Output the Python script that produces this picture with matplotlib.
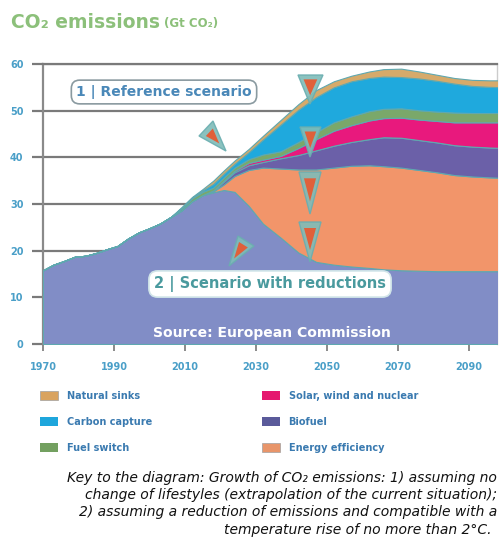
import matplotlib
matplotlib.use("Agg")
import matplotlib.pyplot as plt
from matplotlib.patches import Polygon, Patch

# ---------------- data (Gt CO2) ----------------
years = [1970, 1973, 1976, 1979, 1982, 1985, 1988, 1991, 1994, 1997, 2000, 2003,
         2006, 2009, 2012, 2015, 2018, 2021, 2024, 2028, 2032, 2037, 2042, 2047,
         2052, 2057, 2062, 2066, 2071, 2076, 2081, 2086, 2091, 2096, 2100]

remaining = [15.8, 17.0, 17.8, 18.7, 18.9, 19.5, 20.3, 21.0, 22.6, 23.9, 24.8, 25.8,
             27.2, 28.6, 30.6, 31.9, 32.5, 33.0, 32.6, 29.6, 25.8, 22.8, 19.6, 17.6,
             17.0, 16.6, 16.3, 16.0, 15.8, 15.7, 15.6, 15.6, 15.6, 15.6, 15.6]
energy_efficiency = [0, 0, 0, 0, 0, 0, 0, 0, 0, 0, 0, 0,
                     0, 0, 0, 0, 0.2, 1.2, 3.4, 7.7, 12.0, 14.8, 17.8, 19.8,
                     20.8, 21.6, 22.0, 22.1, 22.0, 21.6, 21.2, 20.6, 20.3, 20.1, 20.0]
biofuel = [0, 0, 0, 0, 0, 0, 0, 0, 0, 0, 0, 0,
           0, 0, 0, 0, 0.1, 0.6, 0.8, 1.0, 1.2, 2.2, 3.1, 4.1,
           4.7, 5.1, 5.6, 6.2, 6.4, 6.4, 6.4, 6.4, 6.4, 6.4, 6.4]
solar_wind_nuclear = [0, 0, 0, 0, 0, 0, 0, 0, 0, 0, 0, 0,
                      0, 0, 0, 0, 0.1, 0.2, 0.3, 0.5, 0.5, 0.5, 1.5, 2.4,
                      3.2, 3.6, 4.0, 4.1, 4.3, 4.4, 4.6, 4.9, 5.2, 5.4, 5.5]
fuel_switch = [0, 0, 0, 0, 0, 0, 0, 0, 0, 0, 0, 0,
               0, 0.4, 0.6, 0.7, 0.6, 0.7, 0.7, 0.8, 1.1, 1.0, 1.3, 1.5,
               1.8, 1.9, 2.0, 2.0, 2.0, 2.0, 2.0, 2.1, 2.0, 2.0, 2.0]
carbon_capture = [0, 0, 0, 0, 0, 0, 0, 0, 0, 0, 0, 0,
                  0, 0.1, 0.1, 0.3, 0.8, 0.8, 0.8, 1.5, 3.2, 5.7, 6.9, 7.5,
                  7.5, 7.5, 7.1, 6.9, 6.7, 6.8, 6.6, 6.2, 5.8, 5.6, 5.5]
natural_sinks = [0, 0, 0, 0, 0, 0, 0, 0, 0, 0, 0, 0,
                 0, 0.2, 0.2, 0.3, 0.7, 0.7, 0.7, 0.7, 0.8, 1.0, 1.2, 1.5,
                 1.3, 1.2, 1.4, 1.6, 1.8, 1.5, 1.3, 1.2, 1.3, 1.4, 1.5]

x_ticks = [1970, 1990, 2010, 2030, 2050, 2070, 2090]
y_ticks = [0, 10, 20, 30, 40, 50, 60]

legend_labels = ["Natural sinks", "Carbon capture", "Fuel switch",
                 "Solar, wind and nuclear", "Biofuel", "Energy efficiency"]

# ---------------- styles ----------------
C_REMAIN = "#818dc6"
C_EFF = "#f2956a"
C_BIO = "#6b60a8"
C_SOLAR = "#e8197d"
C_FUEL = "#7aa86a"
C_CCS = "#1fa9dd"
C_SINK = "#d6aa6a"
EDGE = "#5fa8b0"
TICKC = "#4a9fc8"

W, H = 500, 551
fig = plt.figure(figsize=(W / 100, H / 100), dpi=100)
fig.patch.set_facecolor("white")


def fx(px):
    return px / W


def fy(py):
    return 1 - py / H


ax = fig.add_axes([fx(43), fy(344), fx(497) - fx(43), fy(64) - fy(344)])
ax.stackplot(years, remaining, energy_efficiency, biofuel, solar_wind_nuclear,
             fuel_switch, carbon_capture, natural_sinks,
             colors=[C_REMAIN, C_EFF, C_BIO, C_SOLAR, C_FUEL, C_CCS, C_SINK],
             edgecolor=EDGE, linewidth=0.8, zorder=3)
ax.set_xlim(1970, 2098)
ax.set_ylim(0, 60)
ax.set_axisbelow(True)
ax.yaxis.grid(True, color="#7a7a7a", linewidth=1.6)
ax.set_xticks(x_ticks)
ax.set_yticks(y_ticks)
ax.set_xticklabels([str(v) for v in x_ticks])
ax.set_yticklabels([str(v) for v in y_ticks])
ax.tick_params(axis="y", length=8, width=1.6, color="#7a7a7a", pad=6,
               labelsize=7, labelcolor=TICKC)
ax.tick_params(axis="x", length=5, width=1.4, color="#8a8a8a", pad=8,
               labelsize=7, labelcolor=TICKC)
for lab in ax.get_xticklabels() + ax.get_yticklabels():
    lab.set_fontweight("bold")
ax.spines["left"].set_color("#8a8a8a")
ax.spines["left"].set_linewidth(1.6)
ax.spines["top"].set_color("#7a7a7a")
ax.spines["top"].set_linewidth(1.6)
ax.spines["right"].set_color("#cccccc")
ax.spines["right"].set_linewidth(1.0)
ax.spines["bottom"].set_visible(False)

# ---------------- title ----------------
fig.text(fx(11), fy(22), "CO\u2082 emissions", color="#8cc07a", fontsize=13.5,
         fontweight="bold", va="center", ha="left")
fig.text(fx(164), fy(24), "(Gt CO\u2082)", color="#8cc07a", fontsize=8.5,
         fontweight="bold", va="center", ha="left")

# ---------------- annotations ----------------
fig.text(fx(164), fy(92), "1 | Reference scenario", color="#4a88b8", fontsize=10,
         fontweight="bold", ha="center", va="center", zorder=10,
         bbox=dict(boxstyle="round,pad=0.35,rounding_size=0.6", fc="white",
                   ec="#8a9aa0", lw=1.2))
fig.text(fx(270), fy(284), "2 | Scenario with reductions", color="#4a9a9e",
         fontsize=10.5, fontweight="bold", ha="center", va="center", zorder=10,
         bbox=dict(boxstyle="round,pad=0.35,rounding_size=0.6", fc="white",
                   ec="#d0e4e8", lw=1.2))
fig.text(fx(272), fy(333), "Source: European Commission", color="white",
         fontsize=10, fontweight="bold", ha="center", va="center", zorder=10)


def tri(pts, inner_scale=0.5):
    outer = [(fx(a), fy(b)) for a, b in pts]
    cx = sum(p[0] for p in outer) / 3
    cy = sum(p[1] for p in outer) / 3
    inner = [(cx + (p[0] - cx) * inner_scale, cy + (p[1] - cy) * inner_scale)
             for p in outer]
    fig.patches.append(Polygon(outer, closed=True, transform=fig.transFigure,
                               fc="#7fbcb8", ec="#6aaeb0", lw=1.0, alpha=0.9,
                               zorder=11))
    fig.patches.append(Polygon(inner, closed=True, transform=fig.transFigure,
                               fc="#e0603a", ec="none", zorder=12))


tri([(199, 136), (213, 121), (226, 151)])
tri([(298, 75), (323, 75), (310, 104)], 0.55)
tri([(300, 127), (321, 127), (310, 157)], 0.55)
tri([(299, 172), (321, 172), (310, 214)], 0.55)
tri([(299, 222), (321, 222), (310, 262)], 0.55)
tri([(238, 236), (254, 246), (229, 266)], 0.55)

# ---------------- legend ----------------
handles = [Patch(fc="#d9a35f", ec="#a0a0a0", lw=0.5),
           Patch(fc="#1ea6dc", ec="none"),
           Patch(fc="#73a060", ec="none"),
           Patch(fc="#e5186f", ec="none"),
           Patch(fc="#5a5a9a", ec="none"),
           Patch(fc="#e8956a", ec="#a0a0a0", lw=0.5)]
leg = fig.legend(handles, legend_labels, ncol=2, loc="upper left",
                 bbox_to_anchor=(fx(40), fy(391)), frameon=False,
                 prop=dict(size=7, weight="bold"), labelcolor="#3a7ab0",
                 handlelength=1.9, handleheight=1.1, handletextpad=0.85,
                 labelspacing=1.65, columnspacing=11.3, borderaxespad=0,
                 borderpad=0)

# ---------------- caption ----------------
caption = ["Key to the diagram: Growth of CO\u2082 emissions: 1) assuming no",
           "change of lifestyles (extrapolation of the current situation);",
           "2) assuming a reduction of emissions and compatible with a",
           "temperature rise of no more than 2\u00b0C."]
cap_y = [478, 495, 512, 530]
cap_x = [497, 497, 497, 491]
for t, yy, xx in zip(caption, cap_y, cap_x):
    fig.text(fx(xx), fy(yy), t, fontsize=10, style="italic", color="#111111",
             ha="right", va="center")

fig.savefig("out.png", dpi=100, facecolor="white")
